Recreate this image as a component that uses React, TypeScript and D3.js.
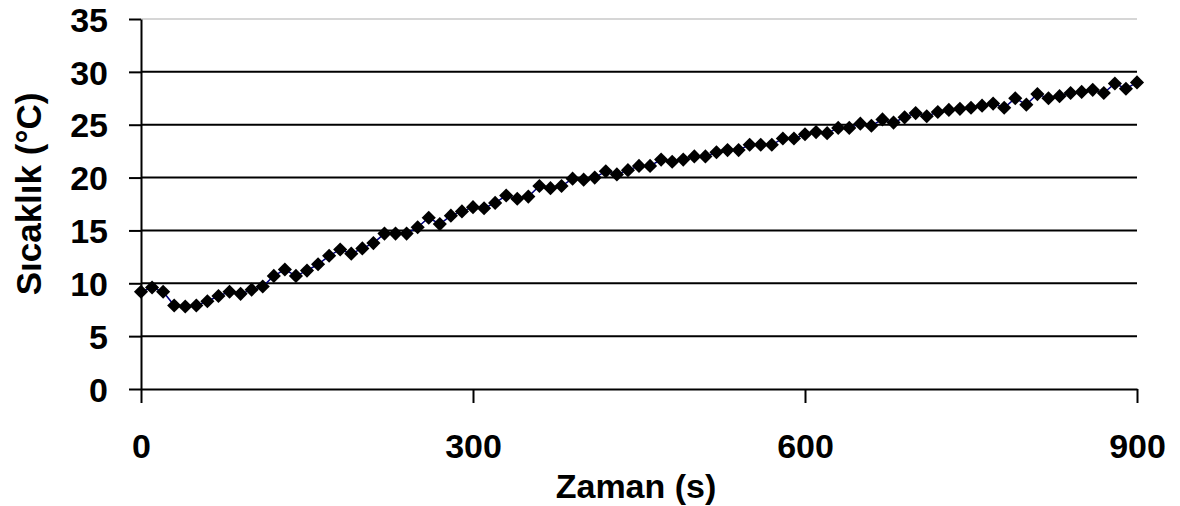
import * as d3 from "d3";
import React, { useRef, useEffect } from "react";

// time (s) and temperature (°C)
const times = [
  0, 10, 20, 30, 40, 50, 60, 70, 80, 90, 100, 110, 120, 130, 140, 150, 160, 170, 180, 190,
  200, 210, 220, 230, 240, 250, 260, 270, 280, 290, 300, 310, 320, 330, 340, 350, 360, 370, 380, 390,
  400, 410, 420, 430, 440, 450, 460, 470, 480, 490, 500, 510, 520, 530, 540, 550, 560, 570, 580, 590,
  600, 610, 620, 630, 640, 650, 660, 670, 680, 690, 700, 710, 720, 730, 740, 750, 760, 770, 780, 790,
  800, 810, 820, 830, 840, 850, 860, 870, 880, 890, 900,
];
const temps = [
  9.2, 9.6, 9.2, 7.9, 7.8, 7.9, 8.3, 8.8, 9.2, 9.0, 9.4, 9.7, 10.7, 11.3, 10.7, 11.2, 11.8, 12.6, 13.2, 12.8,
  13.3, 13.8, 14.7, 14.7, 14.7, 15.3, 16.2, 15.6, 16.4, 16.8, 17.2, 17.1, 17.6, 18.3, 18.0, 18.2, 19.2, 19.0, 19.2, 19.9,
  19.8, 20.0, 20.6, 20.3, 20.7, 21.1, 21.1, 21.7, 21.5, 21.7, 22.0, 22.0, 22.4, 22.6, 22.6, 23.1, 23.1, 23.1, 23.7, 23.7,
  24.1, 24.3, 24.2, 24.7, 24.7, 25.1, 24.9, 25.5, 25.2, 25.7, 26.1, 25.8, 26.2, 26.4, 26.5, 26.6, 26.8, 27.0, 26.6, 27.5,
  26.9, 27.9, 27.5, 27.7, 28.0, 28.1, 28.3, 28.0, 28.9, 28.4, 29.0,
];
const xTicks = [0, 300, 600, 900];
const yTicks = [0, 5, 10, 15, 20, 25, 30, 35];

const FONT = "'Liberation Sans', Arial, sans-serif";

function App() {
  const svgRef = useRef<SVGSVGElement>(null);

  useEffect(() => {
    const w = 1180;
    const h = 506;
    const svg = d3.select(svgRef.current).attr("width", w).attr("height", h);
    svg.selectAll("*").remove();

    const x = d3.scaleLinear().domain([0, 900]).range([141, 1137]);
    const y = d3.scaleLinear().domain([0, 35]).range([389, 19]);

    // gridlines
    svg.append("g")
      .selectAll("line")
      .data(yTicks.filter((t) => t > 0))
      .join("line")
      .attr("x1", x(0))
      .attr("x2", x(900))
      .attr("y1", (d) => y(d))
      .attr("y2", (d) => y(d))
      .attr("stroke", (d) => (d === 35 ? "#c8c8c8" : "#000"))
      .attr("stroke-width", (d) => (d === 35 ? 1.5 : 2));

    // axes
    const yAxis = d3.axisLeft(y).tickValues(yTicks).tickSize(12).tickSizeOuter(0).tickPadding(21);
    const gy = svg.append("g").attr("transform", `translate(${x(0)},0)`).call(yAxis);

    const xAxis = d3.axisBottom(x).tickValues(xTicks).tickSize(14).tickSizeOuter(0).tickPadding(31);
    const gx = svg.append("g").attr("transform", `translate(0,${y(0)})`).call(xAxis);

    [gx, gy].forEach((g) => {
      g.selectAll(".domain").attr("stroke", "#000").attr("stroke-width", 2);
      g.selectAll(".tick line").attr("stroke", "#000").attr("stroke-width", 2);
      g.selectAll("text")
        .attr("fill", "#000")
        .style("font-family", FONT)
        .style("font-weight", "bold")
        .style("font-size", "34px");
    });
    gy.selectAll("text").attr("dy", "0.36em");

    const pts = times.map((t, i) => [t, temps[i]] as [number, number]);

    // connecting line
    const line = d3.line<[number, number]>().x((d) => x(d[0])).y((d) => y(d[1]));
    svg.append("path")
      .datum(pts)
      .attr("d", line)
      .attr("fill", "none")
      .attr("stroke", "#000080")
      .attr("stroke-width", 1.5);

    // diamond markers
    const sq = d3.symbol().type(d3.symbolSquare).size(100);
    svg.append("g")
      .selectAll("path")
      .data(pts)
      .join("path")
      .attr("d", sq)
      .attr("transform", (d) => `translate(${x(d[0])},${y(d[1])}) rotate(45)`)
      .attr("fill", "#000");

    // axis titles
    svg.append("text")
      .attr("x", 636)
      .attr("y", 498)
      .attr("text-anchor", "middle")
      .style("font-family", FONT)
      .style("font-weight", "bold")
      .style("font-size", "34px")
      .text("Zaman (s)");

    svg.append("text")
      .attr("transform", "translate(41,194) rotate(-90)")
      .attr("text-anchor", "middle")
      .style("font-family", FONT)
      .style("font-weight", "bold")
      .style("font-size", "35px")
      .text("Sıcaklık (°C)");
  }, []);

  return (
    <div style={{ position: "absolute", left: 0, top: 0 }}>
      <svg ref={svgRef} style={{ display: "block", background: "#fff" }}></svg>
    </div>
  );
}

export default App;
